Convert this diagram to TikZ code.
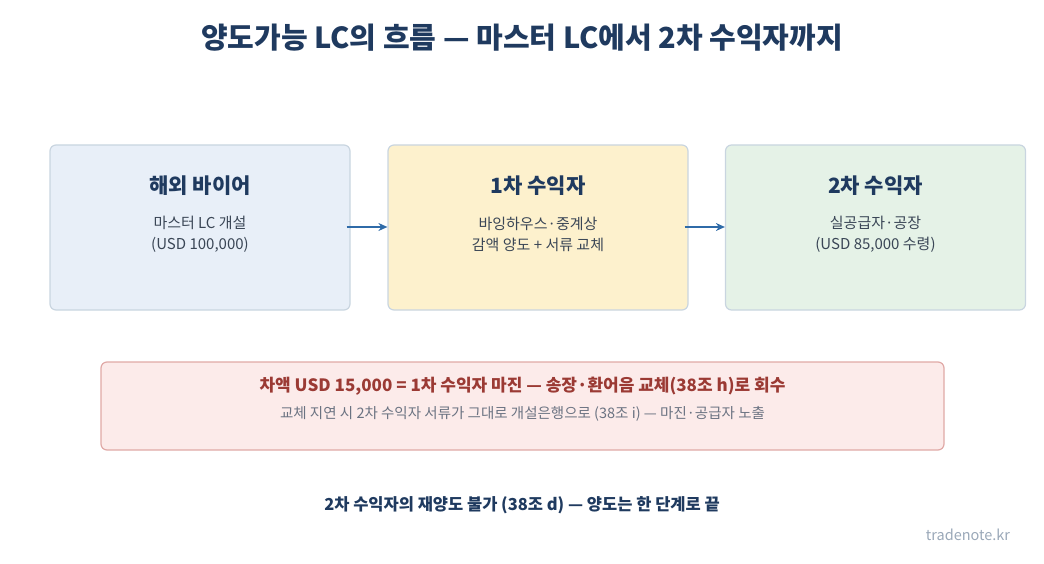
\documentclass[tikz,border=0pt]{standalone}
\usepackage{fontspec}
\setmainfont{Noto Sans CJK KR}
\usetikzlibrary{positioning,arrows.meta}
\definecolor{navy}{HTML}{1F3A5F}
\definecolor{bodytxt}{HTML}{3A4656}
\definecolor{arrowblue}{HTML}{2F6BA8}
\definecolor{edgegray}{HTML}{C9D5E0}
\definecolor{bluebg}{HTML}{E8EFF8}
\definecolor{yellowbg}{HTML}{FDF1CD}
\definecolor{greenbg}{HTML}{E5F2E7}
\definecolor{redbg}{HTML}{FCEBEA}
\definecolor{rededge}{HTML}{E0A9A6}
\definecolor{redtxt}{HTML}{9B3A34}
\definecolor{graytxt}{HTML}{6B7382}
\definecolor{marktxt}{HTML}{9AA8B8}
\tikzset{
  party/.style={draw=edgegray, line width=1.2pt, rounded corners=6pt,
    minimum width=300pt, minimum height=165pt},
  head/.style={font=\fontsize{21}{24}\selectfont\bfseries, text=navy},
  body/.style={font=\fontsize{15}{21}\selectfont, text=bodytxt, align=center},
  flow/.style={-{Stealth[length=9pt,width=8pt]}, arrowblue, line width=1.3pt}
}
\begin{document}
\begin{tikzpicture}[x=1pt,y=-1pt]
\useasboundingbox (0,0) rectangle (1044,564);

% Title
\node[font=\fontsize{29}{32}\selectfont\bfseries, text=navy] (title) at (522,38)
  {양도가능 LC의 흐름 — 마스터 LC에서 2차 수익자까지};

% Parties
\node[party, fill=bluebg] (buyer) at (200,227.5) {};
\node[party, fill=yellowbg] (first) at (538,227.5) {};
\node[party, fill=greenbg] (second) at (875.5,227.5) {};

\node[head] at (200,186) {해외 바이어};
\node[body] at (200,234) {마스터 LC 개설\\(USD 100,000)};
\node[head] at (538,186) {1차 수익자};
\node[body] at (538,234) {바잉하우스·중계상\\감액 양도 + 서류 교체};
\node[head] at (875.5,186) {2차 수익자};
\node[body] at (875.5,234) {실공급자·공장\\(USD 85,000 수령)};

% Arrows
\draw[flow] ([xshift=-4pt,yshift=0.5pt]buyer.east) -- ([yshift=0.5pt]first.west);
\draw[flow] ([xshift=-4pt,yshift=0.5pt]first.east) -- ([yshift=0.5pt]second.west);

% Margin note
\node[draw=rededge, fill=redbg, line width=1.2pt, rounded corners=6pt,
  minimum width=843pt, minimum height=88pt] (margin) at (522.5,406) {};
\node[font=\fontsize{17}{20}\selectfont\bfseries, text=redtxt] at (522.5,386)
  {차액 USD 15,000 = 1차 수익자 마진 — 송장·환어음 교체(38조 h)로 회수};
\node[font=\fontsize{14.5}{17}\selectfont, text=graytxt] at (522.5,414)
  {교체 지연 시 2차 수익자 서류가 그대로 개설은행으로 (38조 i) — 마진·공급자 노출};

% Footer
\node[font=\fontsize{16.5}{19}\selectfont\bfseries, text=navy] at (522,505)
  {2차 수익자의 재양도 불가 (38조 d) — 양도는 한 단계로 끝};
\node[font=\fontsize{14.5}{17}\selectfont, text=marktxt] at (968,535) {tradenote.kr};
\end{tikzpicture}
\end{document}
